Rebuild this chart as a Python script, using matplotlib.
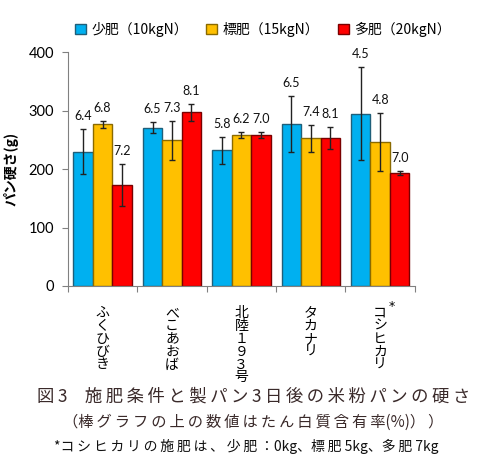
import matplotlib.pyplot as plt
import numpy as np

plt.rcParams['font.family'] = ['Noto Sans CJK JP', 'DejaVu Sans']

varieties = ['ふくひびき', 'べこあおば', '北陸１９３号', 'タカナリ', 'コシヒカリ']
series = ['少肥（10kgN）', '標肥（15kgN）', '多肥（20kgN）']
hardness = [
    [230, 271, 232, 277, 295],   # 少肥
    [277, 249, 259, 253, 246],   # 標肥
    [172, 297, 259, 253, 193],   # 多肥
]
errors = [
    [38, 10, 23, 48, 79],
    [6, 34, 5, 23, 50],
    [36, 15, 5, 19, 3],
]
protein = [
    ['6.4', '6.5', '5.8', '6.5', '4.5'],
    ['6.8', '7.3', '6.2', '7.4', '4.8'],
    ['7.2', '8.1', '7.0', '8.1', '7.0'],
]
colors = ['#00B0F0', '#FFC000', '#FF0000']
edges = ['#1F5F7A', '#8A6A00', '#7A0000']

fig = plt.figure(figsize=(4.78, 4.70), dpi=100)
ax = fig.add_axes([0.142, 0.3915, 0.726, 0.4975])

x = np.arange(len(varieties))
w = 0.28
handles = []
for i in range(3):
    pos = x + (i - 1) * w
    b = ax.bar(pos, hardness[i], w, color=colors[i], edgecolor=edges[i], linewidth=1,
               yerr=errors[i], error_kw=dict(ecolor='#222222', elinewidth=1, capsize=2.5, capthick=1))
    handles.append(b)
    for p, h, e, t in zip(pos, hardness[i], errors[i], protein[i]):
        ax.annotate(t, (p, h + e), xytext=(0, 5), textcoords='offset points',
                    ha='center', va='bottom', fontsize=9, family='Lato', color='#111111')

ax.set_xlim(-0.5, 4.5)
ax.set_ylim(0, 400)
ax.set_yticks([0, 100, 200, 300, 400])
ax.tick_params(axis='y', labelsize=10.5, length=4, color='#808080', pad=6)
for lb in ax.get_yticklabels():
    lb.set_family('Lato')
ax.set_xticks(np.arange(-0.5, 5, 1))
ax.set_xticklabels([])
ax.tick_params(axis='x', length=4, color='#808080')
for s in ['top', 'right']:
    ax.spines[s].set_visible(False)
for s in ['left', 'bottom']:
    ax.spines[s].set_color('#808080')

# vertical category labels
for xi, name in zip(x, varieties):
    ax.text(xi, -34, '\n'.join(name), ha='center', va='top', fontsize=10,
            linespacing=0.9, clip_on=False)
ax.text(x[-1] + 0.12, -24, '*', ha='left', va='top', fontsize=9, family='DejaVu Sans', clip_on=False)

ax.set_ylabel('パン硬さ(g)', fontsize=10, fontweight='bold', labelpad=7)

fig.legend(handles, series, loc='upper center', bbox_to_anchor=(0.55, 0.98), ncol=3,
           frameon=False, fontsize=10, handlelength=0.8, handleheight=0.8,
           handletextpad=0.4, columnspacing=1.3)

sp = '\u2009'
line1 = '図' + sp + '3' + '　' + sp.join('施肥条件と製パン') + sp + '3' + sp + sp.join('日後の米粉パンの硬さ')
fig.text(0.53, 1 - 397 / 470, line1, ha='center', va='center', fontsize=12.5, color='#3a2a2a')
fig.text(0.53, 1 - 422 / 470, '（' + sp.join('棒グラフの上の数値はたん白質含有率') + '(%)）' + sp + '）',
         ha='center', va='center', fontsize=11, color='#3a2a2a')
fig.text(0.515, 1 - 446 / 470, '*' + sp.join('コシヒカリの施肥は、少肥：') + '0kg、' + sp.join('標肥') + ' 5kg、' + sp.join('多肥') + ' 7kg',
         ha='center', va='center', fontsize=10, color='#111111')

fig.savefig('out.png', dpi=100)
